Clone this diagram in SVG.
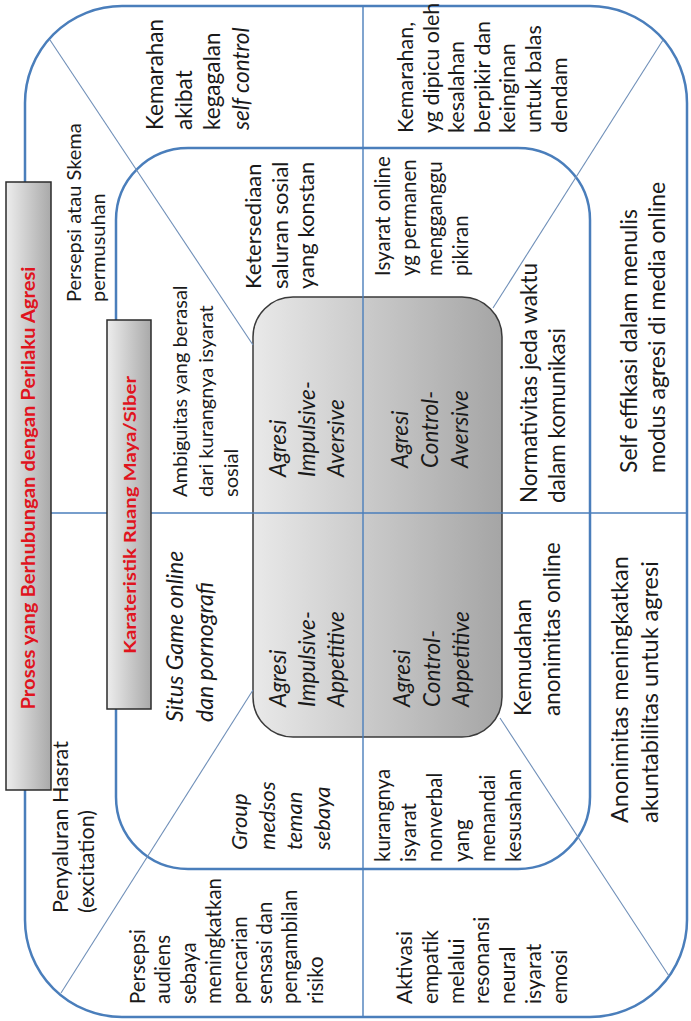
<svg xmlns="http://www.w3.org/2000/svg" width="691" height="1021" viewBox="0 0 691 1021">
<defs>
<linearGradient id="gBar" x1="0" y1="0" x2="1" y2="0"><stop offset="0" stop-color="#ededed"/><stop offset="1" stop-color="#a9a9a9"/></linearGradient>
<linearGradient id="gCore" x1="0" y1="0" x2="1" y2="0"><stop offset="0" stop-color="#e9e9e9"/><stop offset="1" stop-color="#a5a5a5"/></linearGradient>
<style>
.frame{fill:none;stroke:#4a7ebb;stroke-width:2.5}
.axis{stroke:#4a7ebb;stroke-width:1.4}
.diag{stroke:#6f8fb8;stroke-width:1.1}
.bar{fill:url(#gBar);stroke:#2b2b2b;stroke-width:1.5}
.t{font-family:Lato,'Liberation Sans',sans-serif;fill:#1a1a1a}
.i{font-style:italic}
.ttl{font-family:Lato,'Liberation Sans',sans-serif;font-weight:bold;fill:#e0141e}
</style>
</defs>
<rect width="691" height="1021" fill="#ffffff"/>
<g id="outer-frame"><rect x="25" y="6" width="662" height="1011" rx="97" class="frame"/></g>
<g id="inner-frame"><rect x="116" y="148" width="474" height="721" rx="72" class="frame"/></g>
<g id="core"><rect x="253" y="297" width="249" height="440" rx="40" fill="url(#gCore)" stroke="#3a3a3a" stroke-width="1.5"/></g>
<g id="connectors">
<line x1="363" y1="6" x2="363" y2="1017" class="axis"/>
<line x1="25" y1="513" x2="687" y2="513" class="axis"/>
<line x1="50" y1="40" x2="253" y2="345" class="diag"/>
<line x1="663" y1="40" x2="493" y2="308" class="diag"/>
<line x1="61" y1="993" x2="253" y2="690" class="diag"/>
<line x1="669" y1="976" x2="500" y2="718" class="diag"/>
</g>
<g id="title-proses"><rect x="6" y="182" width="45" height="608" class="bar"/>
<text class="ttl" font-size="18" text-anchor="middle" textLength="443" lengthAdjust="spacingAndGlyphs" transform="translate(35,488) rotate(-90)">Proses yang Berhubungan dengan Perilaku Agresi</text></g>
<g id="title-karakteristik"><rect x="107" y="320" width="44" height="389" class="bar"/>
<text class="ttl" font-size="17.5" text-anchor="middle" textLength="278" lengthAdjust="spacingAndGlyphs" transform="translate(136,515) rotate(-90)">Karateristik Ruang Maya/Siber</text></g>

<g id="n-persepsi-skema"><text class="t" font-size="20" transform="translate(81,302) rotate(-90)"><tspan x="0">Persepsi atau Skema</tspan><tspan x="0" dy="24">permusuhan</tspan></text></g>
<g id="n-kemarahan-self-control"><text class="t" font-size="22.5" transform="translate(163,130) rotate(-90)"><tspan x="0">Kemarahan</tspan><tspan x="0" dy="28.7">akibat</tspan><tspan x="0" dy="28.7">kegagalan</tspan><tspan x="0" dy="28.7" class="i">self control</tspan></text></g>
<g id="n-kemarahan-kesalahan"><text class="t" font-size="21.5" transform="translate(413,133) rotate(-90)"><tspan x="0">Kemarahan,</tspan><tspan x="0" dy="25.6">yg dipicu oleh</tspan><tspan x="0" dy="25.6">kesalahan</tspan><tspan x="0" dy="25.6">berpikir  dan</tspan><tspan x="0" dy="25.6">keinginan</tspan><tspan x="0" dy="25.6">untuk balas</tspan><tspan x="0" dy="25.6">dendam</tspan></text></g>
<g id="n-self-effikasi"><text class="t" font-size="23" transform="translate(637,473) rotate(-90)"><tspan x="0">Self effikasi dalam menulis</tspan><tspan x="0" dy="28">modus agresi di media online</tspan></text></g>
<g id="n-anonimitas-akuntabilitas"><text class="t" font-size="23.5" transform="translate(628,823) rotate(-90)"><tspan x="0">Anonimitas meningkatkan</tspan><tspan x="0" dy="30">akuntabilitas untuk agresi</tspan></text></g>
<g id="n-persepsi-audiens"><text class="t" font-size="20.5" transform="translate(145,1004) rotate(-90)"><tspan x="0">Persepsi</tspan><tspan x="0" dy="25.4">audiens</tspan><tspan x="0" dy="25.4">sebaya</tspan><tspan x="0" dy="25.4">meningkatkan</tspan><tspan x="0" dy="25.4">pencarian</tspan><tspan x="0" dy="25.4">sensasi dan</tspan><tspan x="0" dy="25.4">pengambilan</tspan><tspan x="0" dy="25.4">risiko</tspan></text></g>
<g id="n-aktivasi-empatik"><text class="t" font-size="21" transform="translate(412,1004) rotate(-90)"><tspan x="0">Aktivasi</tspan><tspan x="0" dy="25.8">empatik</tspan><tspan x="0" dy="25.8">melalui</tspan><tspan x="0" dy="25.8">resonansi</tspan><tspan x="0" dy="25.8">neural</tspan><tspan x="0" dy="25.8">isyarat</tspan><tspan x="0" dy="25.8">emosi</tspan></text></g>
<g id="n-penyaluran-hasrat"><text class="t" font-size="21.5" transform="translate(68,913) rotate(-90)"><tspan x="0">Penyaluran Hasrat</tspan><tspan x="0" dy="25.5">(excitation)</tspan></text></g>
<g id="n-ambiguitas"><text class="t" font-size="20" transform="translate(187,497) rotate(-90)"><tspan x="0">Ambiguitas yang berasal</tspan><tspan x="0" dy="25.5">dari kurangnya isyarat</tspan><tspan x="0" dy="25.5">sosial</tspan></text></g>
<g id="n-ketersediaan"><text class="t" font-size="22" transform="translate(261,289) rotate(-90)"><tspan x="0">Ketersediaan</tspan><tspan x="0" dy="26.5">saluran sosial</tspan><tspan x="0" dy="26.5">yang konstan</tspan></text></g>
<g id="n-isyarat-online"><text class="t" font-size="20.5" transform="translate(390,276) rotate(-90)"><tspan x="0">Isyarat online</tspan><tspan x="0" dy="26">yg permanen</tspan><tspan x="0" dy="26">mengganggu</tspan><tspan x="0" dy="26">pikiran</tspan></text></g>
<g id="n-normativitas"><text class="t" font-size="22.5" transform="translate(537,503) rotate(-90)"><tspan x="0">Normativitas jeda waktu</tspan><tspan x="0" dy="28">dalam komunikasi</tspan></text></g>
<g id="n-kemudahan"><text class="t" font-size="22.5" transform="translate(531,716) rotate(-90)"><tspan x="0">Kemudahan</tspan><tspan x="0" dy="29">anonimitas online</tspan></text></g>
<g id="n-kurangnya-nonverbal"><text class="t" font-size="20.5" transform="translate(390,862) rotate(-90)"><tspan x="0">kurangnya</tspan><tspan x="0" dy="26.2">isyarat</tspan><tspan x="0" dy="26.2">nonverbal</tspan><tspan x="0" dy="26.2">yang</tspan><tspan x="0" dy="26.2">menandai</tspan><tspan x="0" dy="26.2">kesusahan</tspan></text></g>
<g id="n-group-medsos"><text class="t i" font-size="22" transform="translate(247,850) rotate(-90)"><tspan x="0">Group</tspan><tspan x="0" dy="27.5">medsos</tspan><tspan x="0" dy="27.5">teman</tspan><tspan x="0" dy="27.5">sebaya</tspan></text></g>
<g id="n-situs-game"><text class="t i" font-size="23" transform="translate(183,722) rotate(-90)"><tspan x="0">Situs Game online</tspan><tspan x="0" dy="29.5">dan pornografi</tspan></text></g>
<g id="n-impulsive-aversive"><text class="t i" font-size="22.5" transform="translate(286,477) rotate(-90)"><tspan x="0">Agresi</tspan><tspan x="0" dy="29">Impulsive-</tspan><tspan x="0" dy="29">Aversive</tspan></text></g>
<g id="n-control-aversive"><text class="t i" font-size="22.5" transform="translate(408,468) rotate(-90)"><tspan x="0">Agresi</tspan><tspan x="0" dy="30">Control-</tspan><tspan x="0" dy="30">Aversive</tspan></text></g>
<g id="n-impulsive-appetitive"><text class="t i" font-size="22.5" transform="translate(286,707) rotate(-90)"><tspan x="0">Agresi</tspan><tspan x="0" dy="29">Impulsive-</tspan><tspan x="0" dy="29">Appetitive</tspan></text></g>
<g id="n-control-appetitive"><text class="t i" font-size="22.5" transform="translate(410,707) rotate(-90)"><tspan x="0">Agresi</tspan><tspan x="0" dy="29.5">Control-</tspan><tspan x="0" dy="29.5">Appetitive</tspan></text></g>
</svg>
